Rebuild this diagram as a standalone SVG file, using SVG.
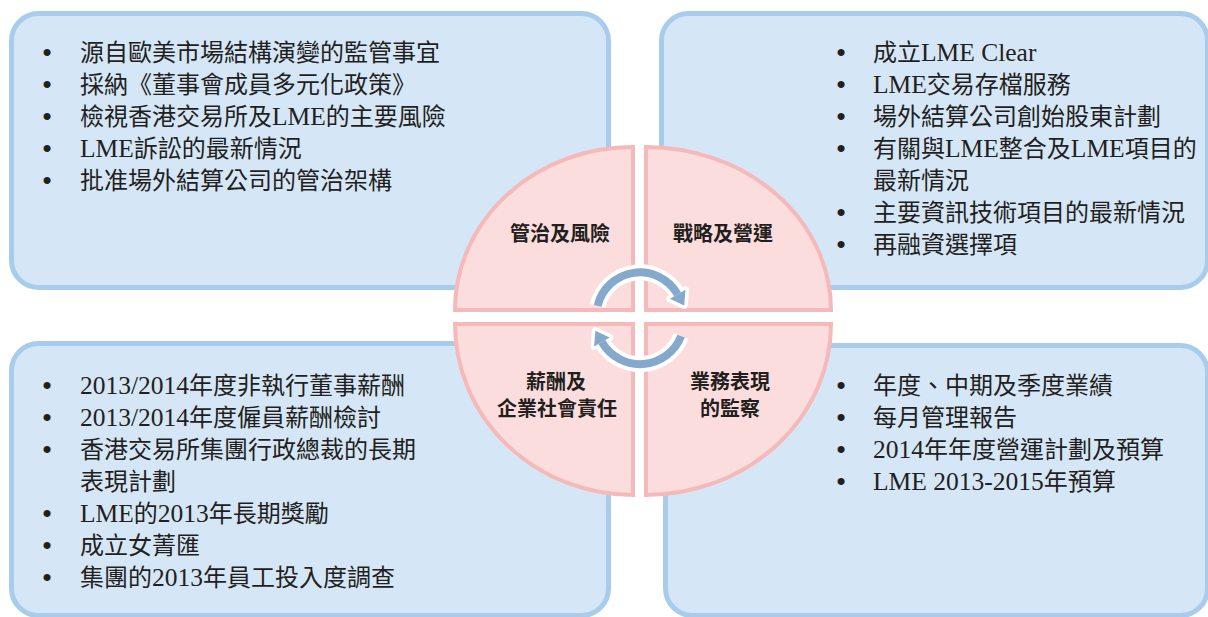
<svg xmlns="http://www.w3.org/2000/svg" width="1208" height="617" viewBox="0 0 1208 617">
<style>
.box{fill:#d5e6f6;stroke:#a8cdec;stroke-width:5}
.quad{fill:#fbdddd;stroke:#f5b9ba;stroke-width:4}
.body{font-family:"Liberation Serif","Noto Sans CJK TC",serif;font-size:24px;fill:#231f20}
.lat{font-size:25.5px}
.bul{font-family:"Liberation Serif",serif;font-size:26px;font-weight:700;fill:#231f20;text-anchor:middle}
.lbl{font-family:"Noto Sans CJK TC",sans-serif;font-size:20px;font-weight:700;fill:#231f20;text-anchor:middle}
.arcw{fill:none;stroke:#ffffff;stroke-width:16}
.arcb{fill:none;stroke:#85a9cd;stroke-width:8}
.headw{fill:#ffffff;stroke:#ffffff;stroke-width:7;stroke-linejoin:round}
.headb{fill:#85a9cd}
</style>
<rect width="1208" height="617" fill="#ffffff"/>

<g id="box-governance">
<rect class="box" x="11.5" y="13.5" width="597" height="274" rx="27"/>
<g class="bul"><text x="47" y="61">•</text><text x="47" y="93">•</text><text x="47" y="125">•</text><text x="47" y="157">•</text><text x="47" y="189">•</text></g>
<g class="body">
<text x="80" y="61">源自歐美市場結構演變的監管事宜</text>
<text x="80" y="93">採納《董事會成員多元化政策》</text>
<text x="80" y="125">檢視香港交易所及<tspan class="lat">LME</tspan>的主要風險</text>
<text x="80" y="157"><tspan class="lat">LME</tspan>訴訟的最新情況</text>
<text x="80" y="189">批准場外結算公司的管治架構</text>
</g>
</g>

<g id="box-strategy">
<rect class="box" x="661.5" y="13.5" width="546" height="274" rx="27"/>
<g class="bul"><text x="841" y="61">•</text><text x="841" y="93">•</text><text x="841" y="125">•</text><text x="841" y="157">•</text><text x="841" y="221">•</text><text x="841" y="253">•</text></g>
<g class="body">
<text x="873" y="61">成立<tspan class="lat">LME Clear</tspan></text>
<text x="873" y="93"><tspan class="lat">LME</tspan>交易存檔服務</text>
<text x="873" y="125">場外結算公司創始股東計劃</text>
<text x="873" y="157">有關與<tspan class="lat">LME</tspan>整合及<tspan class="lat">LME</tspan>項目的</text>
<text x="873" y="189">最新情況</text>
<text x="873" y="221">主要資訊技術項目的最新情況</text>
<text x="873" y="253">再融資選擇項</text>
</g>
</g>

<g id="box-remuneration">
<rect class="box" x="11.5" y="343.5" width="597" height="272" rx="27"/>
<g class="bul"><text x="47" y="394">•</text><text x="47" y="426">•</text><text x="47" y="458">•</text><text x="47" y="522">•</text><text x="47" y="554">•</text><text x="47" y="586">•</text></g>
<g class="body">
<text x="80" y="394"><tspan class="lat">2013/2014</tspan>年度非執行董事薪酬</text>
<text x="80" y="426"><tspan class="lat">2013/2014</tspan>年度僱員薪酬檢討</text>
<text x="80" y="458">香港交易所集團行政總裁的長期</text>
<text x="80" y="490">表現計劃</text>
<text x="80" y="522"><tspan class="lat">LME</tspan>的<tspan class="lat">2013</tspan>年長期獎勵</text>
<text x="80" y="554">成立女菁匯</text>
<text x="80" y="586">集團的<tspan class="lat">2013</tspan>年員工投入度調查</text>
</g>
</g>

<g id="box-performance">
<rect class="box" x="665.5" y="345.5" width="542" height="270" rx="27"/>
<g class="bul"><text x="841" y="394">•</text><text x="841" y="426">•</text><text x="841" y="458">•</text><text x="841" y="490">•</text></g>
<g class="body">
<text x="873" y="394">年度、中期及季度業績</text>
<text x="873" y="426">每月管理報告</text>
<text x="873" y="458"><tspan class="lat">2014</tspan>年年度營運計劃及預算</text>
<text x="873" y="490"><tspan class="lat">LME 2013-2015</tspan>年預算</text>
</g>
</g>

<g id="quad-governance">
<path class="quad" d="M633 310 L455 310 A178 163 0 0 1 633 147 Z"/>
<text class="lbl" x="560" y="241">管治及風險</text>
</g>
<g id="quad-strategy">
<path class="quad" d="M646 310 L646 147 A185 163 0 0 1 831 310 Z"/>
<text class="lbl" x="723" y="241">戰略及營運</text>
</g>
<g id="quad-remuneration">
<path class="quad" d="M633 324 L633 495 A178 171 0 0 1 455 324 Z"/>
<text class="lbl" x="556" y="389">薪酬及</text>
<text class="lbl" x="557" y="416">企業社會責任</text>
</g>
<g id="quad-performance">
<path class="quad" d="M646 324 L831 324 A185 171 0 0 1 646 495 Z"/>
<text class="lbl" x="730" y="389">業務表現</text>
<text class="lbl" x="730" y="416">的監察</text>
</g>

<g id="connectors">
<path class="arcw" d="M597.6 305.9 A43.5 43.5 0 0 1 677.7 294.3"/>
<polygon class="headw" points="684.2,305.5 685.5,289.8 669.9,298.8"/>
<path class="arcw" d="M681.1 336.1 A44 44 0 0 1 601.9 342"/>
<polygon class="headw" points="595.4,330.7 594.1,346.5 609.7,337.5"/>
<path class="arcb" d="M597.6 305.9 A43.5 43.5 0 0 1 677.7 294.3"/>
<polygon class="headb" points="684.2,305.5 685.5,289.8 669.9,298.8"/>
<path class="arcb" d="M681.1 336.1 A44 44 0 0 1 601.9 342"/>
<polygon class="headb" points="595.4,330.7 594.1,346.5 609.7,337.5"/>
</g>
</svg>
